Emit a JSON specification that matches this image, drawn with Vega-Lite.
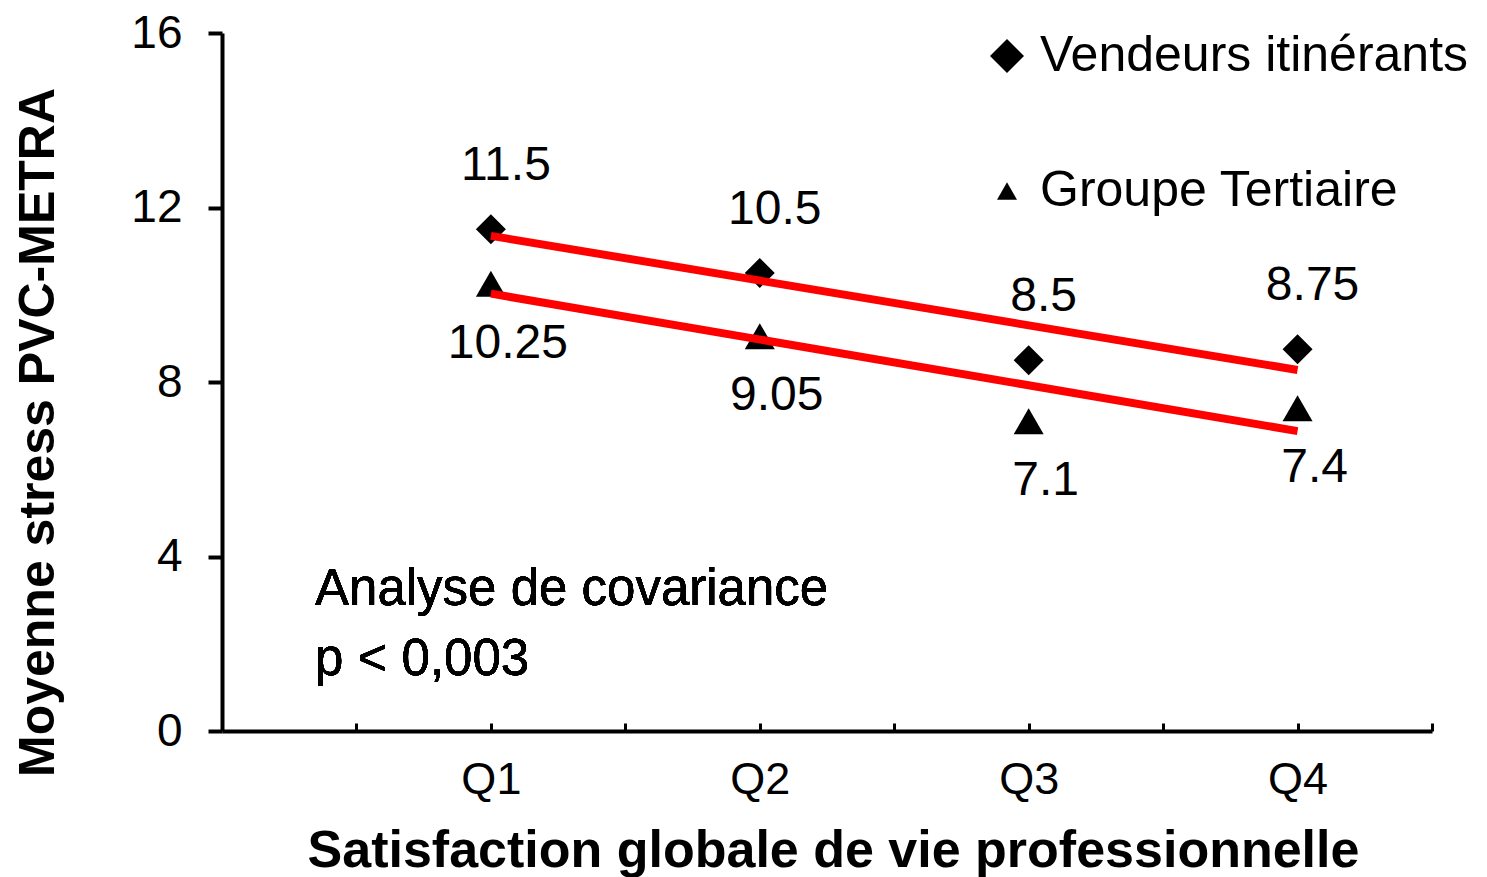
{
  "$schema": "https://vega.github.io/schema/vega-lite/v6.json",
  "autosize": "none",
  "padding": {"left": 222, "top": 33, "right": 55, "bottom": 146},
  "width": 1210,
  "height": 698,
  "background": "white",
  "config": {
    "view": {"stroke": null},
    "font": "Liberation Sans",
    "axis": {"domainColor": "black", "tickColor": "black", "labelColor": "black", "titleColor": "black", "grid": false, "labelFont": "Liberation Sans", "titleFont": "Liberation Sans"}
  },
  "data": {
    "values": [
      {"series": "Vendeurs itinérants", "q": 1, "v": 11.5},
      {"series": "Vendeurs itinérants", "q": 2, "v": 10.5},
      {"series": "Vendeurs itinérants", "q": 3, "v": 8.5},
      {"series": "Vendeurs itinérants", "q": 4, "v": 8.75},
      {"series": "Groupe Tertiaire", "q": 1, "v": 10.25},
      {"series": "Groupe Tertiaire", "q": 2, "v": 9.05},
      {"series": "Groupe Tertiaire", "q": 3, "v": 7.1},
      {"series": "Groupe Tertiaire", "q": 4, "v": 7.4}
    ]
  },
  "encoding": {
    "x": {
      "field": "q", "type": "quantitative",
      "scale": {"domain": [0, 4.5], "nice": false, "zero": false},
      "axis": {
        "title": "Satisfaction globale de vie professionnelle",
        "values": [0.5, 1, 1.5, 2, 2.5, 3, 3.5, 4, 4.5],
        "labelExpr": "datum.value % 1 === 0 ? 'Q' + datum.value : ''",
        "tickSize": -8, "tickWidth": 3, "domainWidth": 4,
        "labelFontSize": 45, "labelPadding": 34, "labelFlush": false, "labelOverlap": false,
        "titleFontSize": 52, "titleFontWeight": "bold", "titleY": 119, "titleX": 611, "titleBaseline": "middle"
      }
    },
    "y": {
      "field": "v", "type": "quantitative",
      "scale": {"domain": [0, 16], "nice": false},
      "axis": {
        "title": "Moyenne stress PVC-METRA",
        "values": [0, 4, 8, 12, 16],
        "tickSize": 14, "tickWidth": 4, "domainWidth": 4,
        "labelFontSize": 46, "labelPadding": 26,
        "titleFontSize": 50, "titleFontWeight": "bold", "titleX": -184, "titleY": 399, "titleBaseline": "middle"
      }
    }
  },
  "layer": [
    {
      "mark": {"type": "point", "filled": true, "opacity": 1, "color": "black", "size": 900},
      "encoding": {
        "shape": {
          "field": "series", "type": "nominal",
          "scale": {"domain": ["Vendeurs itinérants", "Groupe Tertiaire"], "range": ["diamond", "triangle-up"]},
          "legend": {
            "title": null, "orient": "none", "legendX": 760, "legendY": -2,
            "labelFontSize": 50, "labelFont": "Liberation Sans", "labelColor": "black", "labelLimit": 0,
            "symbolSize": {"expr": "datum.value === 'Groupe Tertiaire' ? 400 : 1156"},
            "symbolFillColor": "black", "symbolStrokeWidth": 0, "symbolOpacity": 1,
            "rowPadding": 85, "labelOffset": 8, "padding": 0
          }
        }
      }
    },
    {
      "transform": [{"regression": "v", "on": "q", "groupby": ["series"]}],
      "mark": {"type": "line", "color": "#FF0000", "strokeWidth": 8, "strokeCap": "butt"},
      "encoding": {"detail": {"field": "series", "type": "nominal"}}
    },
    {
      "transform": [{"filter": "datum.series === 'Vendeurs itinérants'"}],
      "mark": {"type": "text", "fontSize": 48, "color": "black", "dx": 15, "dy": -63, "align": "center", "baseline": "middle"},
      "encoding": {"text": {"field": "v", "type": "quantitative"}}
    },
    {
      "transform": [{"filter": "datum.series === 'Groupe Tertiaire'"}],
      "mark": {"type": "text", "fontSize": 48, "color": "black", "dx": 17, "dy": 60, "align": "center", "baseline": "middle"},
      "encoding": {"text": {"field": "v", "type": "quantitative"}}
    },
    {
      "mark": {"type": "text", "fontSize": 51, "color": "black", "align": "left", "baseline": "alphabetic", "lineHeight": 70, "text": ["Analyse de covariance", "p < 0,003"]},
      "encoding": {"x": {"datum": 0.346}, "y": {"datum": 2.888}}
    }
  ]
}
